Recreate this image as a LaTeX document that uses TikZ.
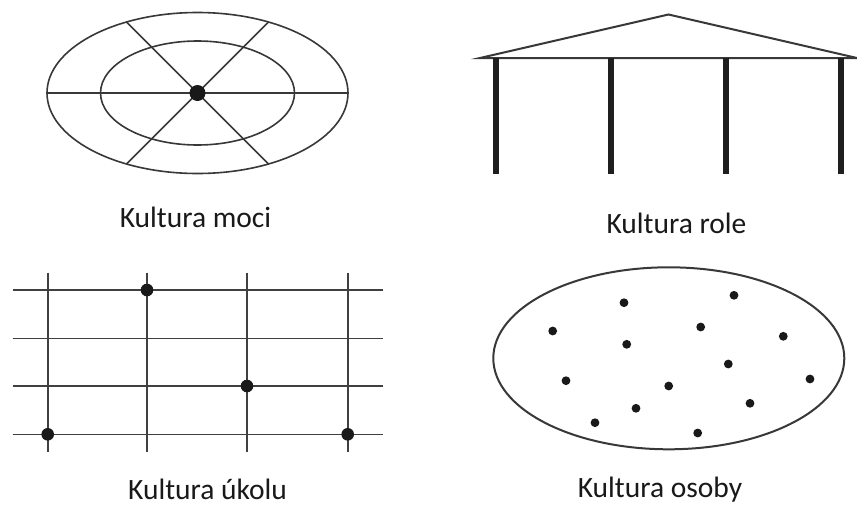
\documentclass[tikz,border=0pt]{standalone}
\usepackage{fontspec}
\setmainfont{Carlito}
\begin{document}
\begin{tikzpicture}[x=1pt,y=-1pt,
  ln/.style={draw=black!78,line width=1.6pt},
  gridln/.style={draw=black!75,line width=1.6pt},
  colm/.style={draw=black!88,line width=6pt},
  bigdot/.style={fill=black!90},
  lbl/.style={anchor=base,inner sep=0pt,font=\fontsize{29.5}{34}\selectfont,text=black!90}]
\useasboundingbox[fill=white] (0,0) rectangle (857,509);
% --- Kultura moci ---
\coordinate (pc) at (197.5,93);
\draw[ln] (pc) ellipse [x radius=150.5pt, y radius=80.5pt];
\draw[ln] (pc) ellipse [x radius=97pt, y radius=52pt];
\coordinate (pl) at (47,93);
\coordinate (pr) at (348,93);
\coordinate (ptl) at (126.5,22);
\coordinate (pbr) at (268.5,164);
\coordinate (ptr) at (268.5,22);
\coordinate (pbl) at (126.5,164);
\draw[ln] (pl) -- (pr);
\draw[ln] (ptl) -- (pbr);
\draw[ln] (ptr) -- (pbl);
\fill[bigdot] (pc) circle[radius=8pt];
\node[lbl] (lmoci) at (195.5,227) {Kultura moci};
% --- Kultura role ---
\coordinate (apex) at (668.5,14.5);
\coordinate (rl) at (480,58);
\coordinate (rr) at (857,58);
\draw[ln,line width=2pt,line join=miter] (rl) -- (apex) -- (rr) -- cycle;
\foreach \cx [count=\i] in {496,611.3,726,840.7}{
  \coordinate (ct\i) at (\cx,58);
  \coordinate (cb\i) at (\cx,173.5);
  \draw[colm] (ct\i) -- (cb\i);
}
\node[lbl] (lrole) at (676.5,233) {Kultura role};
% --- Kultura úkolu ---
\foreach \gy [count=\i] in {290,338.3,386,434.3}{
  \coordinate (hl\i) at (12.5,\gy);
  \coordinate (hr\i) at (382.5,\gy);
  \draw[gridln] (hl\i) -- (hr\i);
}
\foreach \gx [count=\i] in {47.7,147,247,347.7}{
  \coordinate (vt\i) at (\gx,272.5);
  \coordinate (vb\i) at (\gx,451.5);
  \draw[gridln] (vt\i) -- (vb\i);
}
\fill[bigdot] (147,290) circle[radius=6.3pt];
\fill[bigdot] (247,386) circle[radius=6.3pt];
\fill[bigdot] (47.7,434.3) circle[radius=6.3pt];
\fill[bigdot] (347.7,434.3) circle[radius=6.3pt];
\node[lbl] (lukol) at (207.5,499) {Kultura úkolu};
% --- Kultura osoby ---
\coordinate (oc) at (668.8,358.3);
\draw[ln,line width=2pt] (oc) ellipse [x radius=175.5pt, y radius=91pt];
\foreach \dx/\dy in {624/302.7,734/295.3,552.7/331,700.7/327,783.3/336.3,626.7/344.3,728.3/364,566/380.7,810/379,668.7/386,636/408.3,750/403.3,595/422.7,697.7/433}{
  \fill[bigdot] (\dx,\dy) circle[radius=4.4pt];
}
\node[lbl] (losob) at (660,497) {Kultura osoby};
\end{tikzpicture}
\end{document}
